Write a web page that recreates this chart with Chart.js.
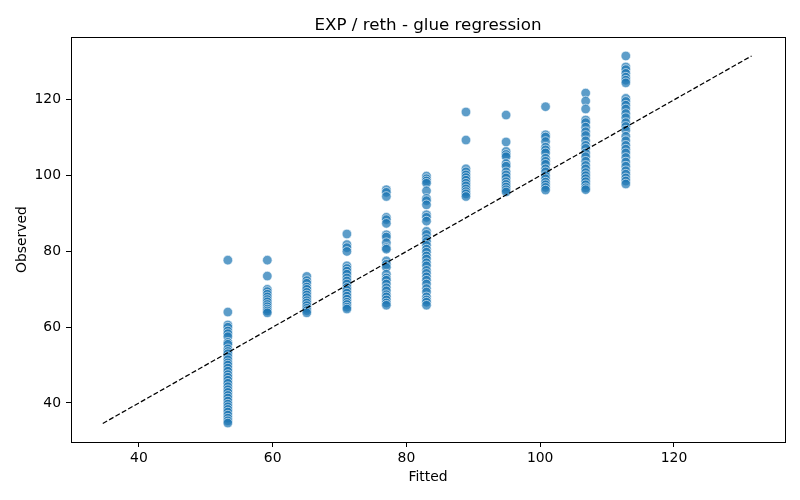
<!DOCTYPE html>
<html>
<head>
<meta charset="utf-8">
<script src="https://cdn.jsdelivr.net/npm/chart.js@4.4.1/dist/chart.umd.min.js"></script>
<style>
  html, body { margin: 0; padding: 0; background: #fff; }
  #wrap { width: 800px; height: 500px; }
</style>
</head>
<body>
<div id="wrap"><canvas id="chart"></canvas></div>
<script>
// fitted value of each column (x)
const fitted = [53.3, 59.2, 65.1, 71.1, 77.0, 83.0, 88.9, 94.9, 100.8, 106.8, 112.8];

const obs53 = [77.7, 64.0, 60.6, 60.0, 59.0, 58.3, 57.5, 56.0, 55.5, 54.3, 53.6, 53.0, 52.2, 51.4, 50.6, 50.0,
               49.2, 48.4, 47.5, 46.8, 46.0, 45.2, 44.3, 43.5, 42.8, 42.0, 41.3, 40.5, 39.7, 39.0, 38.3, 37.6,
               36.8, 36.0, 35.3, 34.7];
const obs59 = [77.7, 73.5, 70.0, 69.4, 68.7, 68.0, 67.3, 66.7, 66.0, 65.4, 64.8, 64.3, 63.8];
const obs65 = [73.4, 72.3, 71.6, 70.6, 70.0, 69.2, 68.5, 67.8, 67.0, 66.4, 65.7, 65.0, 64.4, 63.8];
const obs71 = [84.6, 81.8, 81.0, 80.0, 76.2, 75.5, 74.8, 74.0, 73.0, 72.2, 71.4, 70.5, 69.8, 69.0, 68.2, 67.4,
               66.6, 66.0, 65.3, 64.8];
const obs77 = [96.3, 95.6, 94.5, 89.0, 88.4, 87.4, 84.4, 83.8, 82.3, 81.0, 80.6, 77.5, 76.6, 75.8, 74.0, 73.0,
               72.4, 71.4, 70.4, 69.6, 68.6, 68.0, 67.2, 66.4, 65.8];
const obs83 = [99.9, 99.2, 98.6, 98.0, 96.0, 94.0, 93.4, 92.3, 89.7, 89.0, 88.0, 85.3, 84.5, 83.4, 82.6, 81.6,
               80.6, 79.8, 78.8, 78.0, 77.0, 76.2, 75.0, 74.2, 73.3, 72.4, 71.4, 70.2, 69.3, 68.0, 67.2, 66.6, 65.8];
const obs89 = [116.8, 109.4, 101.8, 101.0, 100.2, 99.5, 98.8, 98.0, 97.3, 96.5, 95.8, 95.2, 94.5];
const obs95 = [116.0, 108.9, 106.4, 105.6, 105.0, 103.2, 102.5, 101.0, 100.2, 99.4, 98.4, 97.7, 97.0, 96.3, 95.7];
const obs101 = [118.2, 110.8, 110.2, 109.0, 107.5, 106.8, 106.0, 104.6, 103.8, 103.0, 101.8, 101.0, 100.0, 99.2,
                98.3, 97.6, 96.9, 96.2];
const obs107 = [121.8, 119.7, 117.6, 114.7, 114.0, 112.8, 111.6, 110.6, 109.2, 108.0, 107.2, 106.0, 105.0, 103.8,
                102.7, 101.8, 100.8, 100.0, 99.2, 98.4, 97.6, 96.8, 96.3];
const obs113 = [131.6, 128.7, 128.0, 127.0, 126.0, 125.2, 124.5, 120.4, 119.6, 118.6, 117.6, 116.4, 115.3, 114.0,
                113.0, 112.0, 110.4, 109.2, 108.0, 107.0, 106.0, 104.8, 103.6, 102.5, 101.3, 100.4, 99.4, 98.6, 97.8];

const observed = [obs53, obs59, obs65, obs71, obs77, obs83, obs89, obs95, obs101, obs107, obs113];

const xTicks = [40, 60, 80, 100, 120];
const yTicks = [40, 60, 80, 100, 120];
const chartTitle = 'EXP / reth - glue regression';

// build points
const points = [];
fitted.forEach((fx, i) => observed[i].forEach(y => points.push({ x: fx, y })));

// y = x reference line over the data range
const allVals = points.map(p => p.x).concat(points.map(p => p.y));
const lo = Math.min(...allVals) - 0.1, hi = Math.max(...allVals);

const FONT = 'DejaVu Sans';

// axes box + title centred over the plot area (like matplotlib)
const frame = {
  id: 'frame',
  afterDatasetsDraw(chart) {
    const { ctx, chartArea: a } = chart;
    ctx.save();
    ctx.strokeStyle = '#000';
    ctx.lineWidth = 1;
    ctx.strokeRect(Math.round(a.left) + 0.5, Math.round(a.top) + 0.5,
                   Math.round(a.right - a.left), Math.round(a.bottom - a.top));
    ctx.fillStyle = '#000';
    ctx.font = '16.7px "' + FONT + '"';
    ctx.textAlign = 'center';
    ctx.textBaseline = 'alphabetic';
    ctx.fillText(chartTitle, (a.left + a.right) / 2, 30);
    ctx.restore();
  }
};

const axis = (ticks, label, pad) => ({
  type: 'linear',
  afterBuildTicks: s => { s.ticks = ticks.map(v => ({ value: v })); },
  grid: { drawOnChartArea: false, drawTicks: true, tickLength: 5, tickColor: '#000', color: '#000' },
  border: { display: false },
  ticks: { color: '#000', font: { family: FONT, size: 13.9 }, padding: 3 },
  title: { display: true, text: label, color: '#000', font: { family: FONT, size: 13.9 }, padding: pad }
});

const xAxis = axis(xTicks, 'Fitted', { top: 0, bottom: 14.5 });
xAxis.min = 29.85; xAxis.max = 136.6;
xAxis.afterFit = s => { s.height = 58; };
const yAxis = axis(yTicks, 'Observed', { top: 13.8, bottom: 0 });
yAxis.min = 29.7; yAxis.max = 136.6;
yAxis.afterFit = s => { s.width = 71; };
yAxis.ticks.padding = 5;

new Chart(document.getElementById('chart'), {
  type: 'scatter',
  data: {
    datasets: [
      {
        type: 'line',
        label: 'y = x',
        data: [{ x: lo, y: lo }, { x: hi, y: hi }],
        borderColor: '#000',
        borderWidth: 1.25,
        borderDash: [5, 2.3],
        pointRadius: 0,
        fill: false,
        order: 0
      },
      {
        label: 'Observed',
        data: points,
        backgroundColor: 'rgba(31,119,180,0.72)',
        borderColor: 'rgba(255,255,255,0.75)',
        borderWidth: 0.8,
        pointRadius: 4.8,
        order: 1
      }
    ]
  },
  options: {
    responsive: true,
    maintainAspectRatio: false,
    devicePixelRatio: 1,
    animation: false,
    layout: { padding: { left: 0, right: 15, top: 37, bottom: 0 } },
    plugins: {
      legend: { display: false },
      tooltip: { enabled: false },
      title: { display: false }
    },
    scales: { x: xAxis, y: yAxis }
  },
  plugins: [frame]
});
</script>
</body>
</html>
